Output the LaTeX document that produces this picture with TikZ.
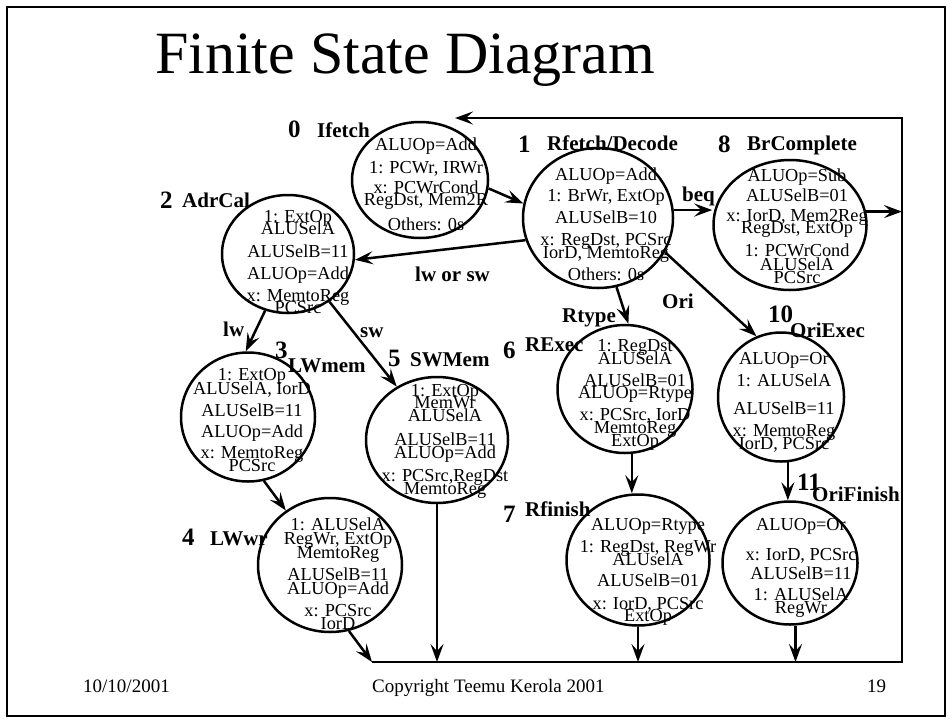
\documentclass[tikz,border=0pt]{standalone}
\usepackage{fontspec}
\setmainfont{Liberation Serif}
\usetikzlibrary{arrows.meta,shapes.geometric}
\newcommand\tightlines{\lineskiplimit=-50pt\relax\lineskip=0pt\relax}
\begin{document}
\begin{tikzpicture}[x=1pt,y=-1pt,
  st/.style={draw, line width=2.5pt, ellipse, inner sep=0pt},
  tx/.style={align=center, inner sep=0pt, anchor=base, font=\fontsize{18.3}{12}\selectfont\tightlines},
  num/.style={anchor=base west, inner sep=0pt, font=\fontsize{25}{25}\selectfont\bfseries},
  lab/.style={anchor=base west, inner sep=0pt, font=\fontsize{21}{21}\selectfont\bfseries},
  foot/.style={anchor=base west, inner sep=0pt, font=\fontsize{19}{19}\selectfont},
  arr/.style={line width=2.5pt, -{Stealth[length=18pt,width=13pt,inset=7pt]}}
]
\path[fill=white] (0,0) rectangle (952,723);
\useasboundingbox (0,0) rectangle (952,723);
\draw[line width=2pt] (7,7) rectangle (945,716);

\node[anchor=base west, inner sep=0pt, font=\fontsize{60}{60}\selectfont] (title) at (155,73) {Finite State Diagram};

% states
\node[st, minimum width=136pt, minimum height=116pt] (s0) at (420,180) {};
\node[st, minimum width=150pt, minimum height=140pt] (s1) at (598,218) {};
\node[st, minimum width=153pt, minimum height=130pt] (s8) at (790,225) {};
\node[st, minimum width=132pt, minimum height=118pt] (s2) at (288,254) {};
\node[st, minimum width=134pt, minimum height=129pt] (s3) at (248,417) {};
\node[st, minimum width=144pt, minimum height=134pt] (s4) at (330,565) {};
\node[st, minimum width=142pt, minimum height=126pt] (s5) at (437,440) {};
\node[st, minimum width=135pt, minimum height=128pt] (s6) at (625,389) {};
\node[st, minimum width=143pt, minimum height=131pt] (s7) at (638,560) {};
\node[st, minimum width=126pt, minimum height=129pt] (s10) at (781,397) {};
\node[st, minimum width=135pt, minimum height=123pt] (s11) at (790,563) {};

% state texts (anchor = baseline of last line)
\node[tx] (t0) at (426,230) {ALUOp=Add\\[11pt]1: PCWr, IRWr\\[8pt]x: PCWrCond\\RegDst, Mem2R\\[13pt]Others: 0s};
\node[tx] (t1) at (606,280) {ALUOp=Add\\[9pt]1: BrWr, ExtOp\\[10pt]ALUSelB=10\\[10pt]x: RegDst, PCSrc\\[1pt]IorD, MemtoReg\\[10pt]Others: 0s};
\node[tx] (t8) at (797,283) {ALUOp=Sub\\[8pt]ALUSelB=01\\[8pt]x: IorD, Mem2Reg\\RegDst, ExtOp\\[11pt]1: PCWrCond\\[2pt]ALUSelA\\[1pt]PCSrc};
\node[tx] (t2) at (298,313) {1: ExtOp\\ALUSelA\\[11pt]ALUSelB=11\\[10pt]ALUOp=Add\\[10pt]x: MemtoReg\\PCSrc};
\node[tx] (t3) at (252,471) {1: ExtOp\\[2pt]ALUSelA, IorD\\[10pt]ALUSelB=11\\[9pt]ALUOp=Add\\[9pt]x: MemtoReg\\[1pt]PCSrc};
\node[tx] (t4) at (338,629) {1: ALUSelA\\[2pt]RegWr, ExtOp\\[2pt]MemtoReg\\[10pt]ALUSelB=11\\[2pt]ALUOp=Add\\[10pt]x: PCSrc\\[1pt]IorD};
\node[tx] (t5) at (445,494) {1: ExtOp\\MemWr\\[1pt]ALUSelA\\[12pt]ALUSelB=11\\[1pt]ALUOp=Add\\[11pt]x: PCSrc,RegDst\\[1pt]MemtoReg};
\node[tx] (t6) at (635,446) {1: RegDst\\[1pt]ALUSelA\\[10pt]ALUSelB=01\\ALUOp=Rtype\\[10pt]x: PCSrc, IorD\\[1pt]MemtoReg\\[1pt]ExtOp};
\node[tx] (t7) at (648,621) {ALUOp=Rtype\\[10pt]1: RegDst, RegWr\\[1pt]ALUselA\\[9pt]ALUSelB=01\\[11pt]x: IorD, PCSrc\\ExtOp};
\node[tx] (t10) at (784,449) {ALUOp=Or\\[10pt]1: ALUSelA\\[16pt]ALUSelB=11\\[10pt]x: MemtoReg\\[1pt]IorD, PCSrc};
\node[tx] (t11) at (801,613) {ALUOp=Or\\[18pt]x: IorD, PCSrc\\[7pt]ALUSelB=11\\[9pt]1: ALUSelA\\[1pt]RegWr};

% state numbers and names
\node[num] (n0) at (288,137) {0};   \node[lab] (l0) at (317,137) {Ifetch};
\node[num] (n1) at (518,152) {1};   \node[lab] (l1) at (547,150) {Rfetch/Decode};
\node[num] (n8) at (718,152) {8};   \node[lab] (l8) at (747,150) {BrComplete};
\node[num] (n2) at (160,208) {2};   \node[lab] (l2) at (182,207) {AdrCal};
\node[num] (n3) at (275,358) {3};   \node[lab] (l3) at (288,372) {LWmem};
\node[num] (n4) at (182,545) {4};   \node[lab] (l4) at (210,545) {LWwr};
\node[num] (n5) at (388,366) {5};   \node[lab] (l5) at (410,366) {SWMem};
\node[num] (n6) at (503,358) {6};   \node[lab] (l6) at (525,351) {RExec};
\node[num] (n7) at (503,522) {7};   \node[lab] (l7) at (525,516) {Rfinish};
\node[num] (n10) at (768,322) {10}; \node[lab] (l10) at (790,337) {OriExec};
\node[num] (n11) at (797,490) {11}; \node[lab] (l11) at (812,501) {OriFinish};

% edge labels
\node[lab] (e1) at (682,201) {beq};
\node[lab] (e2) at (415,281) {lw or sw};
\node[lab] (e3) at (223,336) {lw};
\node[lab] (e4) at (360,337) {sw};
\node[lab] (e5) at (562,322) {Rtype};
\node[lab] (e6) at (662,308) {Ori};

% loop coordinates
\coordinate (tl) at (455,118);
\coordinate (rt) at (902,118);
\coordinate (rb) at (902,662);
\coordinate (bl) at (372,662);

% connectors
\draw[arr] (bl) -- (rb) -- (rt) -- (tl);
\draw[arr] (s0.-7) -- (s1.169);
\draw[arr] (s1.6) -- (s1.6 -| s8.west);
\draw[arr] (s8.10) -- (s8.10 -| rt);
\draw[arr] (s1.-163) -- (s2.-5);
\draw[arr] (s2.-112) -- (s3.92);
\draw[arr] (s2.-49) -- (s5.127);
\draw[arr] (s3.-76) -- (s4.129);
\draw[arr] (s4.-74) -- (bl);
\draw[arr] (s5.south) -- (s5.south |- bl);
\draw[arr] (s1.-75) -- (s6.87);
\draw[arr] (s1.-27) -- (s10.112);
\draw[arr] (s6.-84) -- (s6.-84 |- s7.north);
\draw[arr] (s7.south) -- (s7.south |- bl);
\draw[arr] (s10.-84) -- (s10.-84 |- s11.north);
\draw[arr] (s11.-85) -- (s11.-85 |- bl);

% footer
\node[foot] (date) at (83,692) {10/10/2001};
\node[foot] (copy) at (372,692) {Copyright Teemu Kerola 2001};
\node[foot] (page) at (867,692) {19};
\end{tikzpicture}
\end{document}
